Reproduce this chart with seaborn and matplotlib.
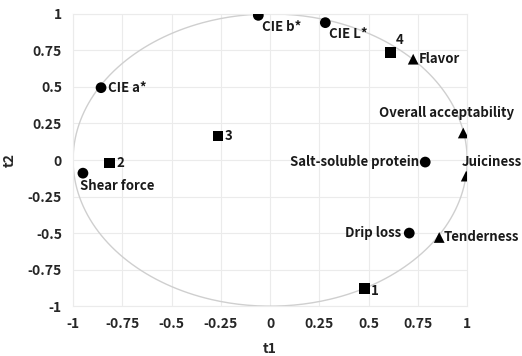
import numpy as np
import pandas as pd
import matplotlib
matplotlib.use("Agg")
import matplotlib.pyplot as plt
import seaborn as sns

labels = ["CIE b*", "CIE L*", "4", "Flavor", "CIE a*", "3", "Overall acceptability",
          "Salt-soluble protein", "2", "Shear force", "Juiciness", "Drip loss",
          "Tenderness", "1"]
t1 = [-0.06, 0.28, 0.61, 0.726, -0.858, -0.264, 0.98, 0.787, -0.817, -0.95, 0.995, 0.706, 0.858, 0.477]
t2 = [0.99, 0.94, 0.735, 0.69, 0.495, 0.165, 0.185, -0.014, -0.02, -0.09, -0.11, -0.50, -0.53, -0.88]
kind = ["X", "X", "obs", "Y", "X", "obs", "Y", "X", "obs", "X", "Y", "X", "Y", "obs"]
ticks = [-1, -0.75, -0.5, -0.25, 0, 0.25, 0.5, 0.75, 1]
tick_labels = ["-1", "-0.75", "-0.5", "-0.25", "0", "0.25", "0.5", "0.75", "1"]

# label placement (offset in points, ha, va)
place = {
    "CIE b*": (3, -3, "left", "top"),
    "CIE L*": (3, -3, "left", "top"),
    "4": (4, 4, "left", "bottom"),
    "Flavor": (4, 0, "left", "center"),
    "CIE a*": (5, 0, "left", "center"),
    "3": (5, 0, "left", "center"),
    "Overall acceptability": (-12, 9, "center", "bottom"),
    "Salt-soluble protein": (-4, 0, "right", "center"),
    "2": (5, 0, "left", "center"),
    "Shear force": (-2, -4, "left", "top"),
    "Juiciness": (-3, 5, "left", "bottom"),
    "Drip loss": (-6, 0, "right", "center"),
    "Tenderness": (3, 0, "left", "center"),
    "1": (5, -2, "left", "center"),
}

sns.set_theme(style="white")
plt.rcParams['font.family'] = ['Noto Sans CJK KR', 'DejaVu Sans']

fig = plt.figure(figsize=(5.22, 3.56), dpi=100)
ax = fig.add_axes([0.140, 0.140, 0.755, 0.821])

df = pd.DataFrame({"t1": t1, "t2": t2, "kind": kind, "label": labels})

theta = np.linspace(0, 2 * np.pi, 400)
ax.plot(np.cos(theta), np.sin(theta), color="#cfcfcf", lw=1.0, zorder=1)

sns.scatterplot(data=df, x="t1", y="t2", style="kind",
                markers={"X": "o", "Y": "^", "obs": "s"},
                color="black", s=60, edgecolor="black", linewidth=0,
                legend=False, ax=ax, zorder=3)

for lab, x, y in zip(labels, t1, t2):
    dx, dy, ha, va = place[lab]
    ax.annotate(lab, (x, y), xytext=(dx, dy), textcoords="offset points",
                ha=ha, va=va, fontsize=9.5, fontweight="bold", color="#1a1a1a",
                annotation_clip=False)

ax.set_xlim(-1, 1)
ax.set_ylim(-1, 1)
ax.set_xticks(ticks)
ax.set_xticklabels(tick_labels)
ax.set_yticks(ticks)
ax.set_yticklabels(tick_labels)
ax.tick_params(axis="both", length=0, labelsize=10, pad=8)
for t in ax.get_xticklabels() + ax.get_yticklabels():
    t.set_fontweight("bold")
ax.grid(True, color="#ebebeb", lw=0.8)
for sp in ax.spines.values():
    sp.set_color("#ebebeb")
    sp.set_linewidth(0.8)
ax.set_xlabel("t1", fontsize=10, fontweight="bold", labelpad=8)
ax.set_ylabel("t2", fontsize=10, fontweight="bold", labelpad=8)

fig.savefig("out.png", dpi=100)
